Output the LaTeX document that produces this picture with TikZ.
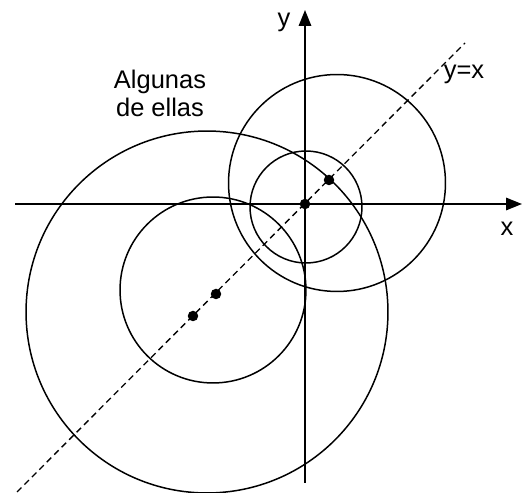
\documentclass[tikz,border=0pt]{standalone}
\usepackage{fontspec}
\setmainfont{Liberation Sans}
\usetikzlibrary{arrows.meta}

\begin{document}
\begin{tikzpicture}[
    x=0.02cm, y=-0.02cm,
    axis/.style={line width=0.9pt, -{Triangle[length=3.2mm, width=2.5mm]}},
    circ/.style={line width=0.85pt},
    diag/.style={line width=0.75pt, dash pattern=on 3.6pt off 2.4pt},
    dot/.style={circle, fill, inner sep=0pt, minimum size=0.21cm},
    lbl/.style={font=\fontsize{14.5}{16}\selectfont, inner sep=1pt}
]
\useasboundingbox (0,0) rectangle (525,493);

% axes and y = x
\coordinate (xmin) at (15,204);
\coordinate (xmax) at (522,204);
\coordinate (ymin) at (305,483);
\coordinate (ymax) at (305,10);
\coordinate (dlow) at (17,492);
\coordinate (dhigh) at (465,43);

\draw[axis] (xmin) -- (xmax);
\draw[axis] (ymin) -- (ymax);
\draw[diag] (dlow) -- (dhigh);

% circles
\coordinate (cA) at (306,207);
\coordinate (cB) at (337,183);
\coordinate (cC) at (207,312);
\coordinate (cD) at (213,290);
\draw[circ] (cA) circle (1.12cm);
\draw[circ] (cB) circle (2.17cm);
\draw[circ] (cC) circle (3.62cm);
\draw[circ] (cD) circle (1.86cm);

% centres
\node[dot] (o) at (305,204) {};
\node[dot] (p1) at (329,180) {};
\node[dot] (p2) at (216,294) {};
\node[dot] (p3) at (193,316) {};

% labels
\node[lbl] (ylab) at (284,22) {y};
\node[lbl] (xlab) at (507,229) {x};
\node[lbl] (diaglab) at (464,74) {y=x};
\node[lbl, align=center] (note) at (160,93) {Algunas\\de ellas};

\end{tikzpicture}
\end{document}
